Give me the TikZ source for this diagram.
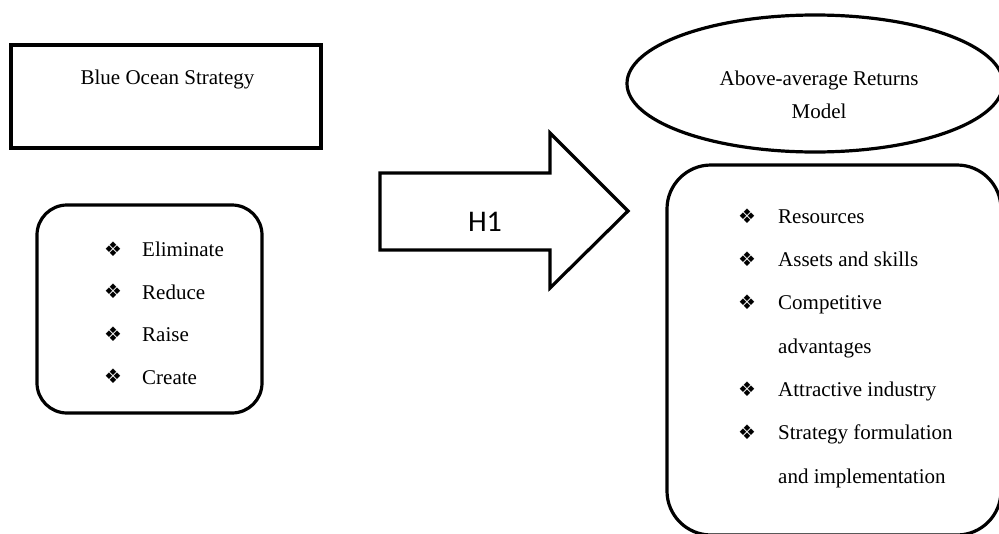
\documentclass[tikz,border=0pt]{standalone}
\usepackage{fontspec}
\setmainfont{Liberation Serif}
\newfontfamily\calfont{Carlito}
\newfontfamily\symfont{DejaVu Sans}
\usetikzlibrary{shapes.geometric}
\tikzset{
  thickline/.style={line width=3.2pt},
  frame/.style={draw, thickline, inner sep=0pt, outer sep=0pt},
  txt/.style={font=\fontsize{21}{25}\selectfont, inner sep=0pt, anchor=base west},
  ctxt/.style={font=\fontsize{21}{25}\selectfont, inner sep=0pt, anchor=base},
  bul/.style={font=\symfont\fontsize{20}{24}\selectfont, inner sep=0pt, anchor=center},
}
\begin{document}
\begin{tikzpicture}[x=1pt,y=-1pt]
\useasboundingbox (0,0) rectangle (999,533);
% top-left rectangle
\node[frame, minimum width=310pt, minimum height=103pt] (bos) at (166,96.5) {};
\node[ctxt] (bost) at (167.5,84) {Blue Ocean Strategy};
% left rounded box
\node[frame, rounded corners=30pt, minimum width=225pt, minimum height=208pt] (lbox) at (149.5,309) {};
\foreach \t/\y [count=\i] in {Eliminate/256.5, Reduce/299, Raise/341.5, Create/384}{
  \node[bul] (lb\i) at (113,\y-7.5) {❖};
  \node[txt] (lt\i) at (142,\y) {\t};
}
% big arrow
\draw[thickline, line join=miter] (380,173) -- (550,173) -- (550,133) -- (628,211) -- (550,288) -- (550,250) -- (380,250) -- cycle;
\node[font=\calfont\fontsize{30}{36}\selectfont, anchor=base, inner sep=0pt] (h1) at (485,231.7) {H1};
% ellipse
\node[frame, ellipse, minimum width=376pt, minimum height=137pt] (ell) at (815,83.5) {};
\node[ctxt] (ell1) at (819,85) {Above-average Returns};
\node[ctxt] (ell2) at (819,118) {Model};
% right rounded box
\node[frame, rounded corners=44pt, minimum width=334pt, minimum height=370pt] (rbox) at (834,350) {};
\foreach \k in {0,1,2,4,5}{
  \node[bul] (rb\k) at (747,223.3+43.3*\k-7.5) {❖};
}
\foreach \t/\k in {Resources/0, Assets and skills/1, Competitive/2, advantages/3, Attractive industry/4, Strategy formulation/5, and implementation/6}{
  \node[txt] (rt\k) at (778,223.3+43.3*\k) {\t};
}
\end{tikzpicture}
\end{document}
